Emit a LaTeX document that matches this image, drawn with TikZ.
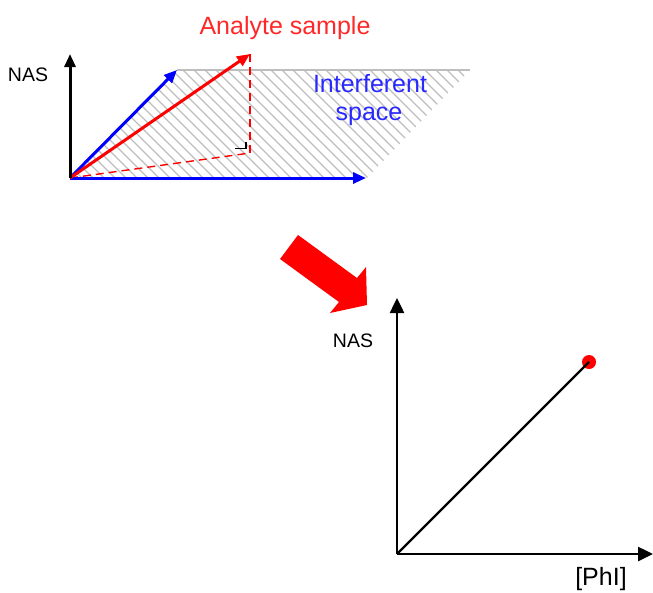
\documentclass[tikz,border=0pt]{standalone}
\usepackage{fontspec}
\setmainfont{Liberation Sans}
\usetikzlibrary{arrows.meta}
\definecolor{pured}{RGB}{255,0,0}
\definecolor{txred}{RGB}{255,40,40}
\definecolor{pblue}{RGB}{0,0,255}
\definecolor{txblue}{RGB}{40,40,255}
\definecolor{hatchgray}{RGB}{190,190,190}
\begin{document}
\begin{tikzpicture}[x=1pt,y=-1pt,
  vec/.style={line width=3pt,-{Triangle[length=13pt,width=11pt]}},
  axisarrow/.style={line width=2.5pt,-{Triangle[length=15pt,width=14pt]}},
  dsh/.style={pured,line width=1.4pt,dash pattern=on 8pt off 5pt},
  hatch/.style={hatchgray,line width=1.1pt},
  lbl/.style={anchor=base,inner sep=0pt,font=\fontsize{25}{28}\selectfont},
  nas/.style={anchor=base,inner sep=0pt,font=\fontsize{19.5}{22}\selectfont}]
\useasboundingbox (0,0) rectangle (653,592);
% top diagram coordinates
\coordinate (O) at (70,178);
\coordinate (Ny) at (70,54);
\coordinate (Bx) at (366,178);
\coordinate (Bd) at (177,70);
\coordinate (TR) at (470,70);
\coordinate (BR) at (367,178);
\coordinate (A) at (250,54);
\coordinate (P) at (250,153);
% hatched interferent plane
\begin{scope}
  \clip (O) -- (Bd) -- (TR) -- (BR) -- cycle;
  \foreach \x in {-125,-114,...,480} \draw[hatch] (\x,70) -- ++(108,108);
\end{scope}
\draw[hatch] (Bd) -- (TR);
% dashed projection
\draw[dsh] (O) -- (P);
\draw[dsh] (A) -- (P);
\draw[line width=1.3pt] (235,148.5) -- (246,148.5) -- (246,142);
% vectors
\draw[vec,pblue] (O) -- (Bx);
\draw[vec,pblue] (O) -- (Bd);
\draw[vec,pured] (O) -- (A);
\draw[vec,black] (O) -- (Ny);
% labels
\node[nas] (nas1) at (28,81) {NAS};
\node[lbl,text=txred] (an) at (285,34) {Analyte sample};
\node[lbl,text=txblue] (if1) at (370,92) {Interferent};
\node[lbl,text=txblue] (if2) at (369,120) {space};
% big red arrow
\fill[pured] (280,259) -- (298,235) -- (357,278) -- (366,267) -- (367,305) -- (330,313) -- (339,302) -- cycle;
% bottom plot
\coordinate (O2) at (397,554);
\coordinate (Y2) at (397,298);
\coordinate (X2) at (653,554);
\node[circle,fill=pured,minimum size=14pt,inner sep=0pt] (dot) at (589,362) {};
\draw[line width=2.3pt] (O2) -- (dot.center);
\draw[axisarrow] (O2) -- (Y2);
\draw[axisarrow] (O2) -- (X2);
\node[nas] (nas2) at (353,347) {NAS};
\node[lbl] (phi) at (601,585) {[PhI]};
\end{tikzpicture}
\end{document}
